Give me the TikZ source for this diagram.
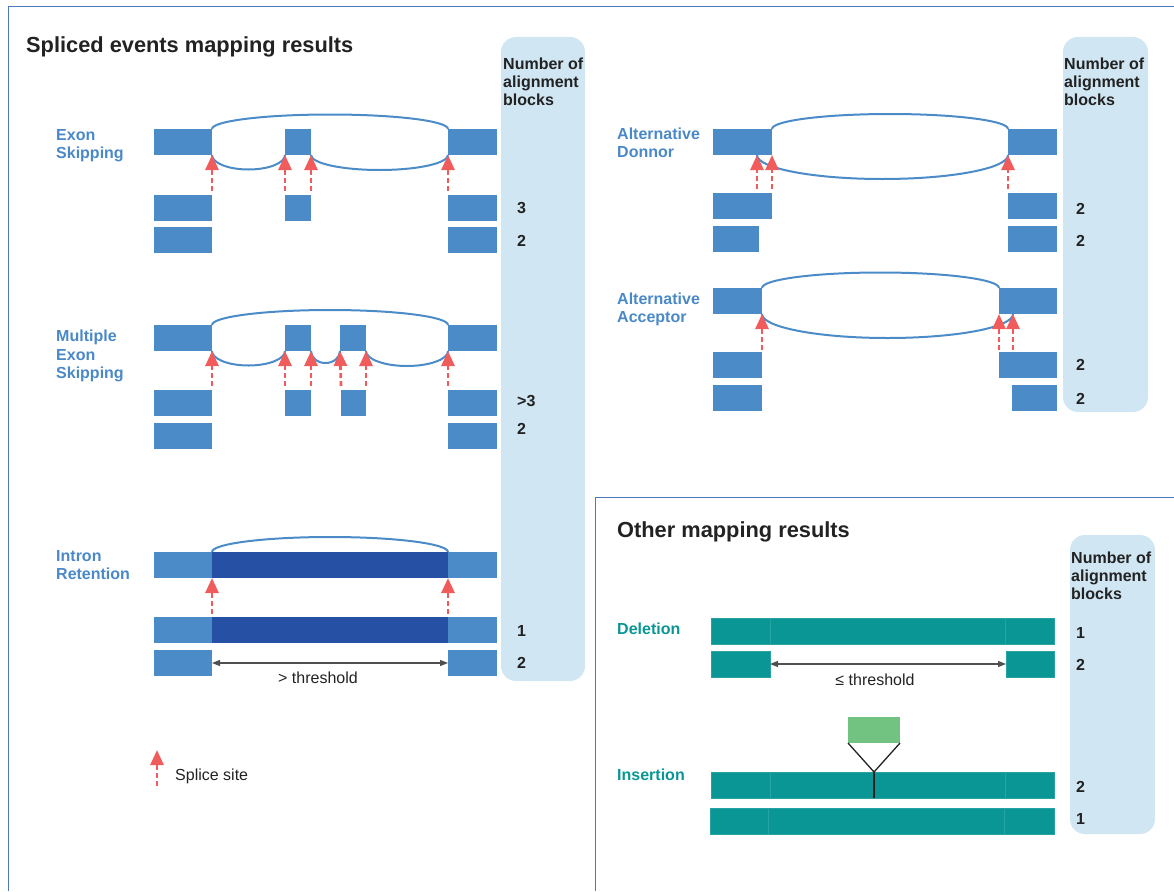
\documentclass[tikz,border=0pt]{standalone}
\usepackage{fontspec}
\setmainfont{Liberation Sans}
\usetikzlibrary{arrows.meta,calc}

\definecolor{exonblue}{RGB}{74,139,200}
\definecolor{introndark}{RGB}{37,80,163}
\definecolor{labelblue}{RGB}{74,136,200}
\definecolor{splicered}{RGB}{240,92,92}
\definecolor{countbg}{RGB}{208,230,243}
\definecolor{frameblue}{RGB}{74,122,184}
\definecolor{readteal}{RGB}{11,150,150}
\definecolor{insgreen}{RGB}{114,194,130}
\definecolor{gapgray}{RGB}{80,80,80}
\definecolor{inkgray}{RGB}{34,34,34}

\tikzset{
  blk/.style={fill=exonblue, inner sep=0, outer sep=0, minimum height=26pt, anchor=north west},
  dblk/.style={blk, fill=introndark},
  tblk/.style={blk, fill=readteal, draw=readteal!88!white, line width=0.5pt},
  junc/.style={draw=exonblue, line width=2pt},
  splice/.style={draw=splicered, line width=2.7pt, dash pattern=on 5pt off 3pt,
    -{Triangle[width=13pt,length=15pt]}},
  gapline/.style={draw=gapgray, line width=1.2pt,
    {Triangle[width=6pt,length=8pt]}-{Triangle[width=6pt,length=8pt]}},
  insline/.style={draw=inkgray, line width=1.3pt},
  frame/.style={draw=frameblue, line width=1pt},
  title/.style={font=\bfseries\fontsize{21.8}{24}\selectfont, text=inkgray, anchor=base west, inner sep=0},
  colhead/.style={font=\bfseries\fontsize{16}{18}\selectfont, text=inkgray, align=left, anchor=north west, inner sep=0},
  evlabel/.style={font=\bfseries\fontsize{16}{18.3}\selectfont, text=labelblue, align=left, anchor=north west, inner sep=0},
  count/.style={font=\bfseries\fontsize{16}{18}\selectfont, text=inkgray, anchor=west, inner sep=0},
  plain/.style={font=\fontsize{16}{18}\selectfont, text=inkgray, inner sep=0}
}

% arcs between two anchors: over the intron / under the spliced part
\newcommand{\uparc}[3]{\draw[junc] let \p1=(#1), \p2=(#2) in (\p1) arc[start angle=180, end angle=0, x radius={(\x2-\x1)/2}, y radius=#3pt];}
\newcommand{\downarc}[3]{\draw[junc] let \p1=(#1), \p2=(#2) in (\p1) arc[start angle=180, end angle=360, x radius={(\x2-\x1)/2}, y radius=#3pt];}

\begin{document}
\begin{tikzpicture}[x=1pt, y=1pt]
  \useasboundingbox (0,0) rectangle (1174,-891);

  % panels
  \draw[frame] (1174,-7) -- (8,-7) -- (8,-891);
  \draw[frame] (1174,-497) -- (595,-497) -- (595,-891);

  \fill[countbg, rounded corners=15pt] (501,-37) rectangle (585,-681);
  \fill[countbg, rounded corners=15pt] (1063,-37) rectangle (1148,-412);
  \fill[countbg, rounded corners=15pt] (1070,-535) rectangle (1155,-834);

  \node[title] (spltitle) at (26,-52.7) {Spliced events mapping results};
  \node[title] (othtitle) at (617,-537) {Other mapping results};

  \node[colhead] (lhead) at (503,-58) {Number of\\alignment\\blocks};
  \node[colhead] (rhead) at (1064,-58) {Number of\\alignment\\blocks};
  \node[colhead] (ohead) at (1071,-552) {Number of\\alignment\\blocks};

  % exon skipping
  \node[evlabel] (eslab) at (56,-129) {Exon\\Skipping};
  \node[blk, minimum width=58pt] (es1a) at (154,-129) {};
  \node[blk, minimum width=26pt] (es1b) at (285,-129) {};
  \node[blk, minimum width=49pt] (es1c) at (448,-129) {};
  \node[blk, minimum width=58pt] (es2a) at (154,-195) {};
  \node[blk, minimum width=26pt] (es2b) at (285,-195) {};
  \node[blk, minimum width=49pt] (es2c) at (448,-195) {};
  \node[blk, minimum width=58pt] (es3a) at (154,-227) {};
  \node[blk, minimum width=49pt] (es3c) at (448,-227) {};

  \uparc{es1a.north east}{es1c.north west}{14.5}
  \downarc{es1a.south east}{es1b.south west}{14.5}
  \downarc{es1b.south east}{es1c.south west}{15}

  \draw[splice] ([yshift=4pt]es2a.north east) -- (es1a.south east);
  \draw[splice] ([yshift=4pt]es2b.north west) -- (es1b.south west);
  \draw[splice] ([yshift=4pt]es2b.north east) -- (es1b.south east);
  \draw[splice] ([yshift=4pt]es2c.north west) -- (es1c.south west);

  \node[count] (esn2) at (517,-208.5) {3};
  \node[count] (esn3) at (517,-240.5) {2};

  % multiple exon skipping
  \node[evlabel] (mslab) at (56,-330) {Multiple\\Exon\\Skipping};
  \node[blk, minimum width=58pt] (ms1a) at (154,-325) {};
  \node[blk, minimum width=26pt] (ms1b) at (285,-325) {};
  \node[blk, minimum width=26pt] (ms1c) at (340,-325) {};
  \node[blk, minimum width=49pt] (ms1d) at (448,-325) {};
  \node[blk, minimum width=58pt] (ms2a) at (154,-390) {};
  \node[blk, minimum width=26pt] (ms2b) at (285,-390) {};
  \node[blk, minimum width=25pt] (ms2c) at (341,-390) {};
  \node[blk, minimum width=49pt] (ms2d) at (448,-390) {};
  \node[blk, minimum width=58pt] (ms3a) at (154,-423) {};
  \node[blk, minimum width=49pt] (ms3d) at (448,-423) {};

  \uparc{ms1a.north east}{ms1d.north west}{15}
  \downarc{ms1a.south east}{ms1b.south west}{14.5}
  \downarc{ms1b.south east}{ms1c.south west}{12}
  \downarc{ms1c.south east}{ms1d.south west}{15}

  \draw[splice] ([yshift=4pt]ms2a.north east) -- (ms1a.south east);
  \draw[splice] ([yshift=4pt]ms2b.north west) -- (ms1b.south west);
  \draw[splice] ([yshift=4pt]ms2b.north east) -- (ms1b.south east);
  \draw[splice] ([yshift=4pt]ms2c.north west) -- (ms1c.south west);
  \draw[splice] ([yshift=4pt]ms2c.north east) -- (ms1c.south east);
  \draw[splice] ([yshift=4pt]ms2d.north west) -- (ms1d.south west);

  \node[count] (msn2) at (517,-400.5) {>3};
  \node[count] (msn3) at (517,-428.5) {2};

  % intron retention
  \node[evlabel] (irlab) at (56,-550) {Intron\\Retention};
  \node[blk, minimum width=58pt] (ir1a) at (154,-552) {};
  \node[dblk, minimum width=236pt] (ir1b) at (212,-552) {};
  \node[blk, minimum width=49pt] (ir1c) at (448,-552) {};
  \node[blk, minimum width=58pt] (ir2a) at (154,-617) {};
  \node[dblk, minimum width=236pt] (ir2b) at (212,-617) {};
  \node[blk, minimum width=49pt] (ir2c) at (448,-617) {};
  \node[blk, minimum width=58pt] (ir3a) at (154,-650) {};
  \node[blk, minimum width=49pt] (ir3c) at (448,-650) {};

  \uparc{ir1a.north east}{ir1c.north west}{15}

  \draw[splice] ([yshift=3pt]ir2a.north east) -- (ir1a.south east);
  \draw[splice] ([yshift=3pt]ir2c.north west) -- (ir1c.south west);

  \draw[gapline] (ir3a.east) -- node[plain, midway, below=8pt, xshift=-12pt] (irgap) {> threshold} (ir3c.west);

  \node[count] (irn2) at (517,-630.5) {1};
  \node[count] (irn3) at (517,-662.5) {2};

  % legend
  \coordinate (lgtail) at (157,-786);
  \coordinate (lgtip) at (157,-750);
  \draw[splice] (lgtail) -- (lgtip);
  \node[plain, anchor=west] (lgtext) at (175,-776.5) {Splice site};

  % alternative donor
  \node[evlabel] (adlab) at (617,-127.5) {Alternative\\Donnor};
  \node[blk, minimum width=59pt] (ad1a) at (713,-129) {};
  \node[blk, minimum width=49pt] (ad1b) at (1008,-129) {};
  \node[blk, minimum width=59pt] (ad2a) at (713,-193) {};
  \node[blk, minimum width=49pt] (ad2b) at (1008,-193) {};
  \node[blk, minimum width=46pt] (ad3a) at (713,-226) {};
  \node[blk, minimum width=49pt] (ad3b) at (1008,-226) {};
  \coordinate (adalt) at (757,-155);

  \uparc{ad1a.north east}{ad1b.north west}{15}
  \downarc{adalt}{ad1b.south west}{24}

  \draw[splice] ($(adalt |- ad2a.north)+(0,4)$) -- (adalt);
  \draw[splice] ([yshift=4pt]ad2a.north east) -- (ad1a.south east);
  \draw[splice] ([yshift=4pt]ad2b.north west) -- (ad1b.south west);

  \node[count] (adn2) at (1076,-208.5) {2};
  \node[count] (adn3) at (1076,-240.5) {2};

  % alternative acceptor
  \node[evlabel] (aalab) at (617,-292.5) {Alternative\\Acceptor};
  \node[blk, minimum width=49pt] (aa1a) at (713,-288) {};
  \node[blk, minimum width=58pt] (aa1b) at (999,-288) {};
  \node[blk, minimum width=49pt] (aa2a) at (713,-352) {};
  \node[blk, minimum width=58pt] (aa2b) at (999,-352) {};
  \node[blk, minimum width=49pt] (aa3a) at (713,-385) {};
  \node[blk, minimum width=45pt] (aa3b) at (1012,-385) {};
  \coordinate (aaalt) at (1013,-314);

  \uparc{aa1a.north east}{aa1b.north west}{15.5}
  \downarc{aa1a.south east}{aaalt}{24}

  \draw[splice] ([yshift=2pt]aa2a.north east) -- (aa1a.south east);
  \draw[splice] ([yshift=2pt]aa2b.north west) -- (aa1b.south west);
  \draw[splice] ($(aaalt |- aa2b.north)+(0,2)$) -- (aaalt);

  \node[count] (aan2) at (1076,-364.5) {2};
  \node[count] (aan3) at (1076,-398.5) {2};

  % deletion
  \node[evlabel, text=readteal, anchor=west] (dllab) at (617,-628.5) {Deletion};
  \node[tblk, minimum width=59pt] (dl1a) at (711,-618) {};
  \node[tblk, minimum width=235pt] (dl1b) at (770,-618) {};
  \node[tblk, minimum width=49pt] (dl1c) at (1005,-618) {};
  \node[tblk, minimum width=59pt] (dl2a) at (711,-651) {};
  \node[tblk, minimum width=48pt] (dl2c) at (1006,-651) {};

  \draw[gapline] (dl2a.east) -- node[plain, midway, below=9pt, xshift=-13pt] (dlgap) {≤ threshold} (dl2c.west);

  \node[count] (dln1) at (1076,-632.5) {1};
  \node[count] (dln2) at (1076,-664.5) {2};

  % insertion
  \node[evlabel, text=readteal, anchor=west] (inlab) at (617,-774.5) {Insertion};
  \node[blk, fill=insgreen, minimum width=52pt] (ins) at (848,-717) {};
  \node[tblk, minimum width=59pt] (in1a) at (711,-772) {};
  \node[tblk, minimum width=235pt] (in1b) at (770,-772) {};
  \node[tblk, minimum width=49pt] (in1c) at (1005,-772) {};
  \node[tblk, minimum width=58pt] (in2a) at (710,-808) {};
  \node[tblk, minimum width=236pt] (in2b) at (768,-808) {};
  \node[tblk, minimum width=50pt] (in2c) at (1004,-808) {};
  \coordinate (inpt) at (ins.south |- in1b.north);

  \draw[insline] (ins.south west) -- (inpt) -- (ins.south east);
  \draw[insline] (inpt) -- (inpt |- in1b.south);

  \node[count] (inn1) at (1076,-786.5) {2};
  \node[count] (inn2) at (1076,-818.5) {1};
\end{tikzpicture}
\end{document}
